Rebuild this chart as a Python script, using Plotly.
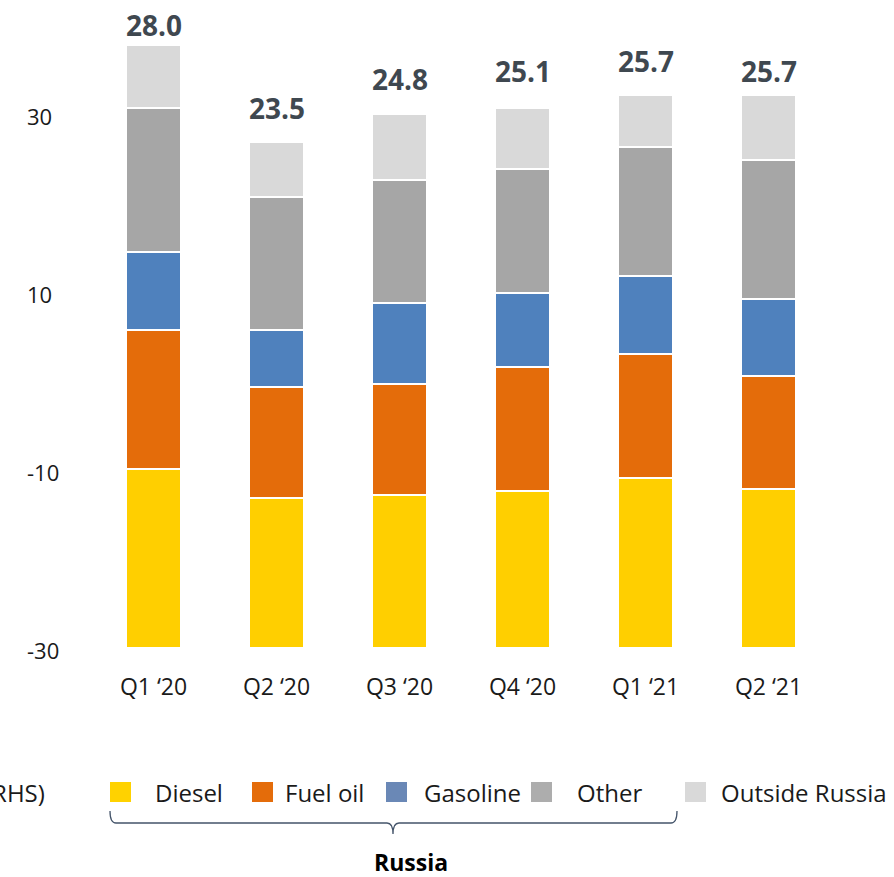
import plotly.graph_objects as go

# Quarterly volumes, stacked by product
quarters = ["Q1 \u201820", "Q2 \u201820", "Q3 \u201820", "Q4 \u201820", "Q1 \u201821", "Q2 \u201821"]
diesel = [8.33, 6.99, 7.11, 7.29, 7.88, 7.40]
fuel_oil = [6.44, 5.12, 5.17, 5.79, 5.79, 5.25]
gasoline = [3.62, 2.68, 3.73, 3.40, 3.61, 3.59]
other = [6.68, 6.18, 5.73, 5.76, 6.01, 6.46]
outside_russia = [2.93, 2.53, 3.06, 2.86, 2.41, 3.00]
left_axis_ticks = [-30, -10, 10, 30]

series = [
    ("Diesel", diesel),
    ("Fuel oil", fuel_oil),
    ("Gasoline", gasoline),
    ("Other", other),
    ("Outside Russia", outside_russia),
]
totals = [sum(v) for v in zip(diesel, fuel_oil, gasoline, other, outside_russia)]

# ---- styling ----
FONT = "Open Sans"
bar_colors = {
    "Diesel": "#FFCF00",
    "Fuel oil": "#E46C0A",
    "Gasoline": "#4F81BD",
    "Other": "#A6A6A6",
    "Outside Russia": "#D9D9D9",
}
legend_colors = {
    "Diesel": "#FFD200",
    "Fuel oil": "#E46C0A",
    "Gasoline": "#6A88B6",
    "Other": "#ADADAD",
    "Outside Russia": "#D9D9D9",
}
label_raise = [20, 34, 35, 37, 34, 24]  # px between bar top and total label

W, H = 894, 877
M_L, M_R, M_T, M_B = 0, 64, 0, 221
PW, PH = W - M_L - M_R, H - M_T - M_B
BASE_PX = 648          # pixel row of the bar baseline
BAR_PX_PER_UNIT = 21.52
LEFT_PX_PER_UNIT = 8.9


def px_x(x):
    return (x - M_L) / PW


def px_y(y):
    return (M_T + PH - y) / PH


fig = go.Figure()
for name, vals in series:
    fig.add_trace(go.Bar(
        x=quarters, y=vals, name=name,
        marker=dict(color=bar_colors[name], line=dict(color="white", width=2)),
        showlegend=False, hoverinfo="x+y+name",
    ))

# scale shown on the left
fig.add_trace(go.Scatter(x=[], y=[], yaxis="y2", showlegend=False))

# totals above each column
for q, t, lift in zip(quarters, totals, label_raise):
    fig.add_annotation(
        x=q, y=t, xref="x", yref="y", text=f"{t:.1f}", showarrow=False,
        yanchor="middle", yshift=lift,
        font=dict(family=FONT, size=28, color="#3F4850", weight="bold"),
    )

# legend drawn beneath the chart
sq_left = [110, 252, 386, 531, 685]
txt_left = [153, 283, 422, 575, 719]
for (name, _), sx, tx in zip(series, sq_left, txt_left):
    fig.add_shape(type="rect", xref="paper", yref="paper",
                  x0=px_x(sx), x1=px_x(sx + 21), y0=px_y(802), y1=px_y(782),
                  fillcolor=legend_colors[name], line=dict(width=0))
    fig.add_annotation(x=px_x(tx), y=px_y(793), xref="paper", yref="paper",
                       text=name, showarrow=False, xanchor="left", yanchor="middle",
                       font=dict(family=FONT, size=24, color="#1A1A1A"))

fig.add_annotation(x=px_x(47), y=px_y(793), xref="paper", yref="paper",
                   text="(RHS)", showarrow=False, xanchor="right", yanchor="middle",
                   font=dict(family=FONT, size=24, color="#1A1A1A"))

# brace grouping the Russian products
def P(x, y):
    return f"{px_x(x):.5f},{px_y(y):.5f}"


path = (f"M {P(110, 811)} Q {P(110, 823)} {P(116, 823)} L {P(387, 823)} "
        f"Q {P(393, 823)} {P(393, 834)} Q {P(393, 823)} {P(399, 823)} "
        f"L {P(671, 823)} Q {P(677, 823)} {P(677, 811)}")
fig.add_shape(type="path", path=path, xref="paper", yref="paper",
              line=dict(color="#44546A", width=1.3))
fig.add_annotation(x=px_x(411), y=px_y(862), xref="paper", yref="paper",
                   text="Russia", showarrow=False, xanchor="center", yanchor="middle",
                   font=dict(family=FONT, size=23, color="#000000", weight="bold"))

bar_lo = -(PH - BASE_PX) / BAR_PX_PER_UNIT
bar_hi = BASE_PX / BAR_PX_PER_UNIT
left_lo = -30 - (PH - 651) / LEFT_PX_PER_UNIT
left_hi = 30 + 117 / LEFT_PX_PER_UNIT

fig.update_layout(
    template="none",
    width=W, height=H,
    margin=dict(l=M_L, r=M_R, t=M_T, b=M_B, pad=0),
    paper_bgcolor="white", plot_bgcolor="white",
    barmode="stack", bargap=0.553,
    showlegend=False,
    font=dict(family=FONT, color="#1A1A1A"),
    xaxis=dict(
        domain=[92 / PW, 1], type="category", showgrid=False, showline=False,
        zeroline=False, ticks="", tickfont=dict(family=FONT, size=23, color="#1A1A1A"),
        ticklabelstandoff=15, automargin=False,
    ),
    yaxis=dict(range=[bar_lo, bar_hi], visible=False, automargin=False),
    yaxis2=dict(
        overlaying="y", anchor="free", position=0, side="right",
        range=[left_lo, left_hi], tickvals=left_axis_ticks,
        ticktext=[str(v) for v in left_axis_ticks],
        showgrid=False, showline=False, zeroline=False, ticks="",
        tickfont=dict(family=FONT, size=22, color="#1A1A1A"),
        ticklabelstandoff=26, automargin=False,
    ),
)

fig.write_html("out.html")
